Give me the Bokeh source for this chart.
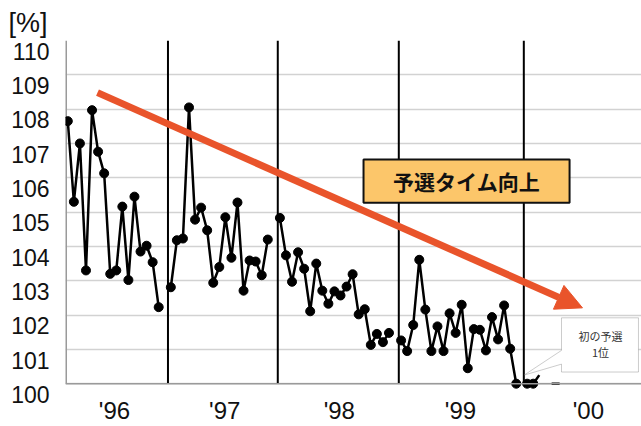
from bokeh.plotting import figure
from bokeh.models import (Span, BoxAnnotation, Label, Arrow, NormalHead,
                          PolyAnnotation, FixedTicker)
from bokeh.embed import file_html
from bokeh.resources import INLINE

# Qualifying time relative to the pole time [%], one value per race, by season
seasons = ["'96", "'97", "'98", "'99", "'00"]
season_start = [0, 17, 35, 55, 75.8]          # race slot where each season begins
q96 = [107.65, 105.3, 107.0, 103.3, 107.97, 106.76, 106.13, 103.2, 103.3, 105.16,
       103.02, 105.45, 103.85, 104.02, 103.54, 102.23]
q97 = [102.81, 104.18, 104.23, 108.05, 104.78, 105.13, 104.47, 102.94, 103.4, 104.85,
       103.67, 105.28, 102.71, 103.59, 103.56, 103.16, 104.2]
q98 = [104.83, 103.74, 102.97, 103.83, 103.35, 102.11, 103.5, 102.71, 102.33, 102.69,
       102.57, 102.83, 103.19, 102.02, 102.17, 101.13, 101.45, 101.21, 101.48]
q99 = [101.26, 100.95, 101.71, 103.61, 102.16, 100.95, 101.67, 100.95, 102.05, 101.48,
       102.3, 100.45, 101.59, 101.57, 100.97, 101.94, 101.29, 102.28, 101.02, 100.0]
q00 = [100.0, 100.0, 100.25]
q00_marked = 2                                  # races of 2000 shown with a marker
pending_x = [80.5]
pending_y = [100.0]

season_dividers = [16.53, 34.65, 54.62, 75.25]
season_label_x = [7.7, 25.9, 44.8, 64.8, 85.9]
y_ticks = list(range(100, 111))

FONT = "Liberation Sans"
JP = "Noto Sans CJK JP"
ORANGE = "#E9542B"
X0, X1 = -0.38, 94.67
Y_MIN, Y_MAX = 100, 110
LABEL_DROP = 0.315          # tick labels sit a little below their grid lines

# the frame reaches slightly below 100 so the lowest label has room
p = figure(width=641, height=426, x_range=(X0, X1), y_range=(Y_MIN - LABEL_DROP, Y_MAX),
           output_backend="svg", toolbar_location=None,
           min_border_left=65, min_border_right=0, min_border_top=40, min_border_bottom=26)
p.outline_line_color = None
p.background_fill_color = "white"
p.border_fill_color = "white"

# unit label in the top-left corner
p.title.text = "[%]"
p.title.align = "left"
p.title.offset = -57
p.title.standoff = 5
p.title.text_font = FONT
p.title.text_font_size = "27px"
p.title.text_font_style = "normal"
p.title.text_color = "#111111"

# grid
p.xgrid.grid_line_color = None
p.ygrid.ticker = FixedTicker(ticks=y_ticks)
p.ygrid.grid_line_color = "#d2d2d2"
p.ygrid.grid_line_width = 1.6

# y axis: labels only
label_pos = [t - LABEL_DROP for t in y_ticks]
p.yaxis.ticker = FixedTicker(ticks=label_pos)
p.yaxis.major_label_overrides = {pos: str(t) for pos, t in zip(label_pos, y_ticks)}
p.yaxis.major_label_standoff = 10
p.yaxis.major_label_text_font_size = "23px"

# x axis: season names only
p.xaxis.ticker = FixedTicker(ticks=season_label_x)
p.xaxis.major_label_overrides = {x: s for x, s in zip(season_label_x, seasons)}
p.xaxis.major_label_text_font_size = "24px"
p.xaxis.major_label_standoff = -4

for ax in (p.xaxis, p.yaxis):
    ax.axis_line_color = None
    ax.major_tick_line_color = None
    ax.minor_tick_line_color = None
    ax.major_label_text_font = FONT
    ax.major_label_text_color = "#111111"

# frame edges at value 100 and at the left end
p.add_layout(Span(location=Y_MIN, dimension="width", line_color="#9a9a9a", line_width=1.5))
p.segment(x0=[X0], y0=[Y_MIN], x1=[X0], y1=[Y_MAX], line_color="#9a9a9a", line_width=3)

# season dividers
for loc in season_dividers:
    p.segment(x0=[loc], y0=[Y_MIN], x1=[loc], y1=[Y_MAX], line_color="black",
              line_width=2)

# series
for start, vals in zip(season_start, [q96, q97, q98, q99, q00]):
    xs = [start + i for i in range(len(vals))]
    p.line(xs, vals, line_color="black", line_width=2.5)
    n = q00_marked if vals is q00 else len(vals)
    p.scatter(xs[:n], vals[:n], size=9, fill_color="black", line_color="black")
p.scatter(pending_x, pending_y, marker="dash", size=8, line_color="black", line_width=2.5)

# trend arrow
p.add_layout(Arrow(x_start=4.9, y_start=108.48, x_end=84.93, y_end=102.21,
                   line_color=ORANGE, line_width=7,
                   end=NormalHead(size=26, fill_color=ORANGE, line_color=ORANGE, line_width=1)))

# headline box
p.add_layout(BoxAnnotation(left=48.8, right=82.8, bottom=105.27, top=106.53,
                           fill_color="#FCC66A", fill_alpha=1, line_color="#111111",
                           line_width=2, line_alpha=1))
p.add_layout(Label(x=65.8, y=105.9, text="予選タイム向上", text_align="center",
                   text_baseline="middle", text_font=JP, text_font_style="bold",
                   text_font_size="21px", text_color="#111111"))

# callout for the first pole
cx = [81.47, 94.17, 94.17, 81.47, 81.47, 75.3, 81.47]
cy = [101.92, 101.92, 100.34, 100.34, 100.57, 100.25, 100.97]
p.add_layout(PolyAnnotation(xs=cx, ys=cy, fill_color="white", fill_alpha=1,
                            line_color="#555555", line_width=1))
p.add_layout(Label(x=87.9, y=101.4, text="初の予選", text_align="center",
                   text_baseline="middle", text_font=JP,
                   text_font_size="11px", text_color="#333333"))
p.add_layout(Label(x=87.9, y=100.92, text="1位", text_align="center",
                   text_baseline="middle", text_font=JP,
                   text_font_size="11px", text_color="#333333"))

open("out.html", "w").write(file_html(p, INLINE))
